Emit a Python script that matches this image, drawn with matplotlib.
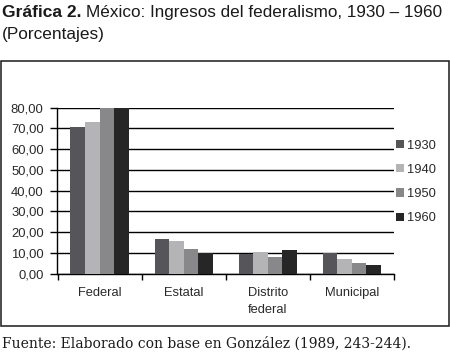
import matplotlib.pyplot as plt
import matplotlib.patches as mpatches
import numpy as np

# Data
categories = ['Federal', 'Estatal', 'Distrito\nfederal', 'Municipal']
years = ['1930', '1940', '1950', '1960']
v1930 = [70.8, 16.6, 9.3, 10.1]
v1940 = [73.1, 15.6, 10.3, 6.9]
v1950 = [80.0, 11.7, 7.9, 5.0]
v1960 = [80.0, 10.1, 11.2, 4.0]
series = [v1930, v1940, v1950, v1960]
colors = ['#56565a', '#b4b4b6', '#88888b', '#262626']
yticks = np.arange(0, 81, 10)

W, H = 450, 362
plt.rcParams['font.family'] = ['Liberation Sans', 'DejaVu Sans']
fig = plt.figure(figsize=(W / 100, H / 100), dpi=100)

def fx(px):
    return px / W

def fy(py):
    return 1 - py / H

# outer frame
frame = mpatches.Rectangle((fx(1.2), fy(325.7)), fx(447.3), (325.7 - 61.2) / H,
                           transform=fig.transFigure, fill=False,
                           edgecolor='#1a1a1a', linewidth=1.1)
fig.patches.append(frame)

ax = fig.add_axes([fx(57.5), fy(273.7), fx(394 - 57.5), (273.7 - 107.7) / H])
x = np.arange(len(categories))
bw = 0.173
for i, (vals, c, yr) in enumerate(zip(series, colors, years)):
    ax.bar(x + (i - 1.5) * bw, vals, bw, color=c, label=yr, zorder=3)

ax.set_xlim(-0.5, 3.5)
ax.set_ylim(0, 80)
ax.set_yticks(yticks)
ax.set_yticklabels([f'{v:.2f}'.replace('.', ',') for v in yticks])
ax.yaxis.grid(True, color='black', linewidth=1.0, zorder=0)
ax.set_axisbelow(True)
for s in ['top', 'right']:
    ax.spines[s].set_visible(False)
ax.spines['left'].set_linewidth(1.0)
ax.spines['bottom'].set_linewidth(1.0)
ax.tick_params(axis='y', direction='out', length=5, width=1.0, pad=5,
               labelsize=9.4, labelcolor='#2a2a2a')

ax.set_xticks(np.arange(-0.5, 4, 1))
ax.set_xticklabels([])
ax.set_xticks(x, minor=True)
ax.set_xticklabels(categories, minor=True, fontsize=9.3, color='#2a2a2a',
                   linespacing=1.6, va='top')
ax.tick_params(axis='x', which='major', direction='out', length=4.5, width=1.0)
ax.tick_params(axis='x', which='minor', length=0, pad=9.5)

leg = ax.legend(loc='upper left', bbox_to_anchor=(fx(396), fy(139.5)),
                bbox_transform=fig.transFigure, frameon=False,
                fontsize=9.3, handlelength=0.62, handleheight=0.62,
                handletextpad=0.25, labelspacing=0.95, borderpad=0,
                borderaxespad=0)
for t in leg.get_texts():
    t.set_color('#2a2a2a')

# title in two parts: bold label followed by regular text
renderer = fig.canvas.get_renderer()
t1 = fig.text(fx(1.5), fy(17), 'Gráfica 2.', fontsize=12.5, fontweight='bold',
              va='baseline', ha='left', color='#1a1a1a')
bb = t1.get_window_extent(renderer)
fig.text(bb.x1 / W + fx(5), fy(17), 'México: Ingresos del federalismo, 1930 – 1960',
         fontsize=12.3, va='baseline', ha='left', color='#1a1a1a')
fig.text(fx(1.5), fy(39), '(Porcentajes)', fontsize=12.4, va='baseline',
         ha='left', color='#1a1a1a')

fig.text(fx(1.5), fy(348), 'Fuente: Elaborado con base en González (1989, 243-244).',
         fontsize=10, family='DejaVu Serif', va='baseline', ha='left',
         color='#1a1a1a')

fig.savefig('out.png', dpi=100)
